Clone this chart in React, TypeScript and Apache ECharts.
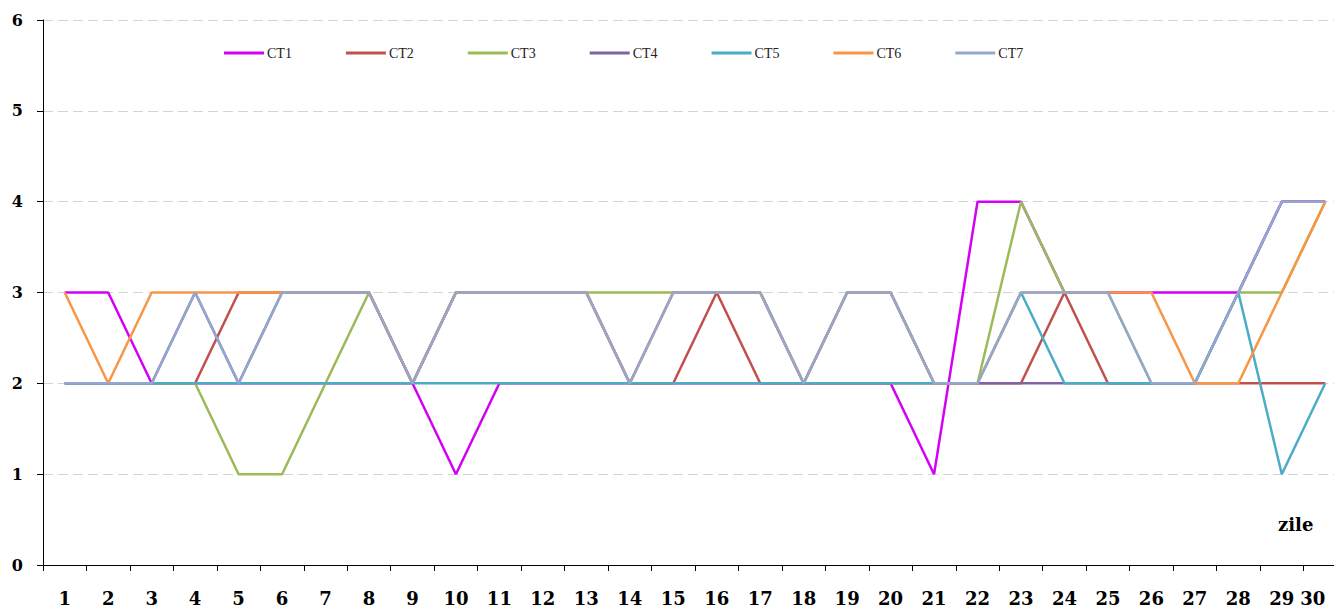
import React, { useEffect, useRef } from "react";
import * as echarts from "echarts";

const days = Array.from({ length: 30 }, (_, i) => String(i + 1));
const seriesNames = ["CT1", "CT2", "CT3", "CT4", "CT5", "CT6", "CT7"];
const colors = ["#D400F5", "#C0504D", "#9BBB59", "#8064A2", "#4BACC6", "#F79646", "#93A7CF"];

const ct1 = [3, 3, 2, 2, 2, 2, 2, 2, 2, 1, 2, 2, 2, 2, 2, 2, 2, 2, 2, 2, 1, 4, 4, 3, 3, 3, 3, 3, 4, 4];
const ct2 = [2, 2, 2, 2, 3, 3, 3, 3, 2, 3, 3, 3, 3, 2, 2, 3, 2, 2, 2, 2, 2, 2, 2, 3, 2, 2, 2, 2, 2, 2];
const ct3 = [2, 2, 2, 2, 1, 1, 2, 3, 2, 3, 3, 3, 3, 3, 3, 3, 3, 2, 3, 3, 2, 2, 4, 3, 3, 2, 2, 3, 3, 4];
const ct4 = [2, 2, 2, 3, 2, 3, 3, 3, 2, 3, 3, 3, 3, 2, 3, 3, 3, 2, 3, 3, 2, 2, 2, 2, 2, 2, 2, 3, 4, 4];
const ct5 = [2, 2, 2, 2, 2, 2, 2, 2, 2, 2, 2, 2, 2, 2, 2, 2, 2, 2, 2, 2, 2, 2, 3, 2, 2, 2, 2, 3, 1, 2];
const ct6 = [3, 2, 3, 3, 3, 3, 3, 3, 2, 3, 3, 3, 3, 2, 3, 3, 3, 2, 3, 3, 2, 2, 3, 3, 3, 3, 2, 2, 3, 4];
const ct7 = [2, 2, 2, 3, 2, 3, 3, 3, 2, 3, 3, 3, 3, 2, 3, 3, 3, 2, 3, 3, 2, 2, 3, 3, 3, 2, 2, 3, 4, 4];

const yTicks = [0, 1, 2, 3, 4, 5, 6];
const xAxisTitle = "zile";

const allData = [ct1, ct2, ct3, ct4, ct5, ct6, ct7];

export default function App() {
  const ref = useRef<HTMLDivElement>(null);
  useEffect(() => {
    if (!ref.current) return;
    const chart = echarts.init(ref.current, null, { renderer: "svg" });
    const font = "'Liberation Serif', 'Times New Roman', serif";
    const axisFont = "'DejaVu Serif', serif";
    const categoryData = days.map((d, i) =>
      i === days.length - 1 ? { value: d, textStyle: { align: "right" } } : d
    );
    chart.setOption({
      animation: false,
      backgroundColor: "#ffffff",
      textStyle: { fontFamily: font },
      color: colors,
      grid: { left: 43, top: 20, right: 0, bottom: 41, containLabel: false },
      legend: {
        data: seriesNames,
        left: 219,
        top: 41,
        icon: "rect",
        itemWidth: 40,
        itemHeight: 3,
        itemGap: 54,
        textStyle: { fontFamily: font, fontSize: 14, color: "#222", padding: [0, 0, 0, -2] },
      },
      xAxis: {
        type: "category",
        data: categoryData,
        boundaryGap: true,
        axisLine: { lineStyle: { color: "#000", width: 1 } },
        axisTick: { show: true, length: 6, lineStyle: { color: "#000" } },
        axisLabel: {
          interval: 0,
          fontFamily: axisFont,
          fontWeight: "bold",
          fontSize: 18,
          color: "#000",
          margin: 24,
        },
        splitLine: { show: false },
      },
      yAxis: {
        type: "value",
        min: yTicks[0],
        max: yTicks[yTicks.length - 1],
        interval: 1,
        axisLine: { show: true, lineStyle: { color: "#000", width: 1 } },
        axisTick: { show: true, length: 6, lineStyle: { color: "#000" } },
        axisLabel: {
          fontFamily: axisFont,
          fontWeight: "bold",
          fontSize: 16,
          color: "#000",
          margin: 20,
        },
        splitLine: { show: true, lineStyle: { color: "#d4d4d4", type: [10, 5], width: 1 } },
      },
      graphic: [
        {
          type: "text",
          left: 1278,
          top: 515,
          style: {
            text: xAxisTitle,
            font: `bold 18px ${axisFont}`,
            fill: "#000",
          },
        },
      ],
      series: seriesNames.map((name, i) => ({
        name,
        type: "line",
        data: allData[i],
        symbol: "none",
        lineStyle: { width: 2.5, color: colors[i] },
        itemStyle: { color: colors[i] },
      })),
    });
    return () => chart.dispose();
  }, []);
  return (
    <div
      style={{
        position: "fixed",
        left: 0,
        top: 0,
        width: 1334,
        height: 607,
        overflow: "hidden",
        background: "#fff",
      }}
    >
      <div ref={ref} style={{ width: 1347, height: 607 }} />
    </div>
  );
}
